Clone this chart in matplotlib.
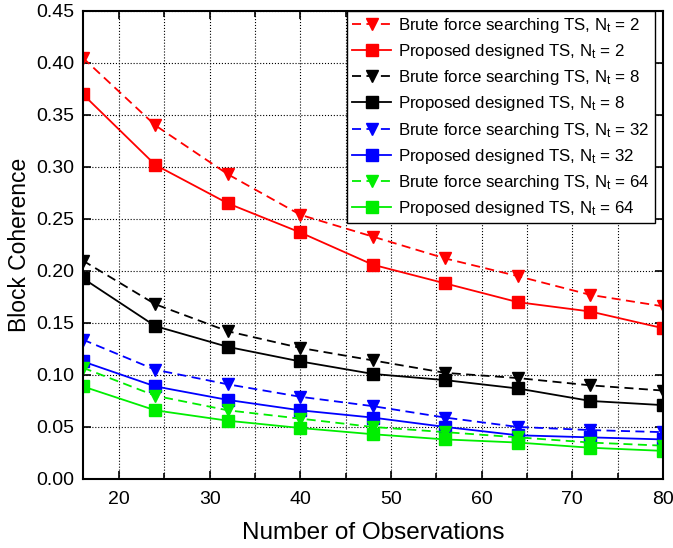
import matplotlib
matplotlib.use("Agg")
import matplotlib.pyplot as plt
from matplotlib.ticker import MultipleLocator

plt.rcParams["font.family"] = ["Liberation Sans", "DejaVu Sans"]
plt.rcParams["mathtext.fontset"] = "custom"
plt.rcParams["mathtext.rm"] = "Liberation Sans"
plt.rcParams["mathtext.it"] = "Liberation Sans"

observations = [16, 24, 32, 40, 48, 56, 64, 72, 80]

brute_nt2 = [0.405, 0.340, 0.293, 0.254, 0.233, 0.212, 0.195, 0.177, 0.166]
proposed_nt2 = [0.370, 0.302, 0.265, 0.237, 0.206, 0.188, 0.170, 0.161, 0.145]
brute_nt8 = [0.210, 0.168, 0.142, 0.126, 0.114, 0.102, 0.097, 0.090, 0.085]
proposed_nt8 = [0.193, 0.147, 0.127, 0.113, 0.101, 0.095, 0.087, 0.075, 0.071]
brute_nt32 = [0.134, 0.105, 0.091, 0.079, 0.070, 0.059, 0.050, 0.047, 0.045]
proposed_nt32 = [0.113, 0.089, 0.076, 0.066, 0.059, 0.050, 0.042, 0.040, 0.038]
brute_nt64 = [0.107, 0.080, 0.066, 0.058, 0.050, 0.045, 0.040, 0.035, 0.032]
proposed_nt64 = [0.089, 0.066, 0.056, 0.049, 0.043, 0.038, 0.035, 0.030, 0.027]

series = [
    ("2", "#ff0000", brute_nt2, proposed_nt2),
    ("8", "#000000", brute_nt8, proposed_nt8),
    ("32", "#0000ff", brute_nt32, proposed_nt32),
    ("64", "#00ee00", brute_nt64, proposed_nt64),
]

fig = plt.figure(figsize=(6.73, 5.48), dpi=100)
ax = fig.add_axes([0.123, 0.126, 0.862, 0.854])

for nt, color, brute, proposed in series:
    ax.plot(observations, brute, color=color, linestyle=(0, (5, 3)), linewidth=1.3,
            marker="v", markersize=9, label=f"Brute force searching TS, N$_\\mathregular{{t}}$ = {nt}")
    ax.plot(observations, proposed, color=color, linestyle="-", linewidth=1.3,
            marker="s", markersize=8, label=f"Proposed designed TS, N$_\\mathregular{{t}}$ = {nt}")

ax.set_xlim(16, 80)
ax.set_ylim(0, 0.45)
ax.xaxis.set_major_locator(MultipleLocator(10))
ax.xaxis.set_minor_locator(MultipleLocator(5))
ax.yaxis.set_major_locator(MultipleLocator(0.05))
ax.yaxis.set_major_formatter(matplotlib.ticker.FormatStrFormatter("%.2f"))
ax.tick_params(which="both", direction="in", top=True, right=True, width=1.2, labelsize=14)
ax.tick_params(which="major", length=6)
ax.tick_params(which="minor", length=4)
ax.tick_params(axis="x", pad=9)
ax.tick_params(axis="y", pad=6)
ax.grid(which="major", axis="y", linestyle=":", color="black", linewidth=0.8)
ax.grid(which="both", axis="x", linestyle=":", color="black", linewidth=0.8)
for spine in ax.spines.values():
    spine.set_linewidth(1.5)

ax.set_xlabel("Number of Observations", fontsize=17.5, labelpad=10)
ax.set_ylabel("Block Coherence", fontsize=16.5, labelpad=4)

leg = ax.legend(loc="upper right", bbox_to_anchor=(0.986, 1.0), fontsize=12.2,
                fancybox=False, edgecolor="black", framealpha=1, borderaxespad=0,
                handlelength=2.3, labelspacing=0.42, borderpad=0.3, handletextpad=0.4)
leg.get_frame().set_linewidth(1.0)

fig.savefig("out.png", dpi=100)
